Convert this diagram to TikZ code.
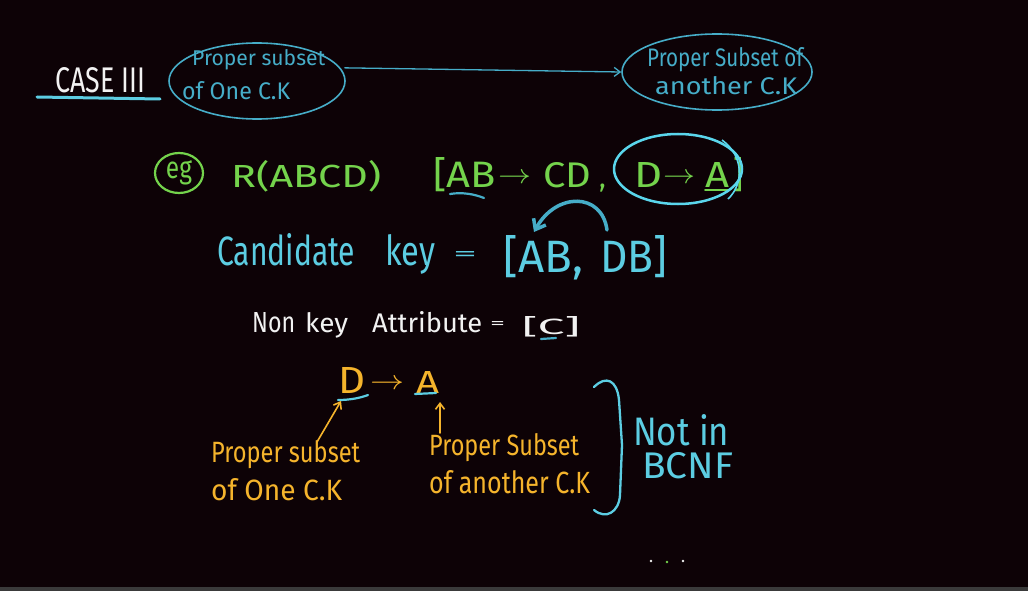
\documentclass[tikz,border=0pt]{standalone}
\usepackage{fontspec}
\setmainfont{Fira Sans}
\usepackage{graphicx}
\usetikzlibrary{shapes.geometric,arrows.meta}
\definecolor{bg}{HTML}{0D0206}
\definecolor{strip}{HTML}{3A3A3A}
\definecolor{cy}{HTML}{5CCDE2}
\definecolor{cyb}{HTML}{5AD6EC}
\definecolor{tl}{HTML}{46ADC8}
\definecolor{grn}{HTML}{74D34C}
\definecolor{ylw}{HTML}{F5B42C}
\definecolor{wht}{HTML}{F2F2F2}
\newcommand{\tx}[3]{\resizebox{#1pt}{#2pt}{#3}}
\begin{document}
\begin{tikzpicture}[x=1pt,y=-1pt,
  txt/.style={inner sep=0pt, anchor=base west},
  mid/.style={inner sep=0pt, anchor=west},
  oval/.style={draw=tl, ellipse, line width=1.6pt, inner sep=0pt},
  uline/.style={line width=2.2pt, line cap=round},
  yarrow/.style={draw=ylw, line width=1.6pt, line cap=round, -{Straight Barb[length=6pt,width=9pt]}}]
\fill[bg] (0,0) rectangle (1028,591);
\useasboundingbox (0,0) rectangle (1028,591);
\fill[strip] (0,587) rectangle (1028,591);

% ---- header ----
\node[txt, text=wht] (case) at (55,93) {\tx{90}{25}{CASE III}};
\draw[cy, uline, line width=3pt] (37,97) -- (160,99);

\node[oval, minimum width=176pt, minimum height=76pt] (e1) at (257,81) {};
\node[txt, text=tl] (l1) at (192,66) {\tx{133}{16}{Proper subset}};
\node[txt, text=tl] (l2) at (182,100) {\tx{108}{18}{of One C.K}};

\node[oval, minimum width=190pt, minimum height=76pt] (e2) at (717,72) {};
\node[txt, text=tl] (r1) at (647,67) {\tx{156}{19}{Proper Subset of}};
\node[txt, text=tl] (r2) at (655,95) {\tx{142}{18}{another C.K}};

\draw[tl, line width=1.3pt, -{Straight Barb[length=6pt,width=9pt]}, shorten <=4pt] (e1.9) -- (e2.west);

% ---- green row ----
\node[draw=grn, ellipse, line width=2.2pt, minimum width=48pt, minimum height=40pt, inner sep=0pt, text=grn] (eg) at (179,173) {\tx{26}{18}{eg}};
\node[txt, text=grn] (g1) at (231,187) {\tx{150}{27}{R(ABCD)}};
\node[txt, text=grn] (g2) at (433,187) {\tx{63}{30}{[AB}};
\node[mid, text=grn] (g3) at (498,178) {\tx{33}{10}{$\rightarrow$}};
\node[txt, text=grn] (g4) at (543,187) {\tx{48}{25}{CD}};
\node[txt, text=grn] (g4c) at (599,187) {\fontsize{28pt}{28pt}\selectfont ,};
\node[txt, text=grn] (g5) at (634,187) {\tx{28}{25}{D}};
\node[mid, text=grn] (g6) at (663,178) {\tx{32}{10}{$\rightarrow$}};
\node[txt, text=grn] (g7) at (705,187) {\tx{24}{25}{A}};
\node[txt, text=grn] (g8) at (733,187) {\tx{10}{30}{]}};
\draw[grn, uline, line width=1.8pt] (705,190) -- (729,190);
\draw[tl, uline] (450,194) .. controls (462,192) and (474,194) .. (484,198);
\node[draw=cyb, ellipse, line width=2.5pt, minimum width=128pt, minimum height=70pt, inner sep=0pt] (e3) at (678,169) {};
\draw[cyb, line width=1.6pt] (722,140) .. controls (744,156) and (744,184) .. (728,199);

% ---- candidate key ----
\draw[tl, line width=3.5pt, line cap=round, -{Straight Barb[length=9pt,width=14pt]}] (607,230) .. controls (602,192) and (556,192) .. (534,232);
\node[txt, text=cy] (c1) at (217,265) {\tx{138}{32}{Candidate}};
\node[txt, text=cy] (c2) at (385,265) {\tx{50}{31}{key}};
\node[mid, text=cy] (c3) at (453,256) {\tx{24}{9}{=}};
\node[txt, text=cy] (c4) at (503,272) {\tx{80}{37}{[AB,}};
\node[txt, text=cy] (c5) at (600,272) {\tx{67}{37}{DB]}};

% ---- non key ----
\node[txt, text=wht] (n1) at (252,332) {\tx{43}{20}{Non}};
\node[txt, text=wht] (n2) at (305,332) {\tx{43}{20}{key}};
\node[txt, text=wht] (n3) at (372,332) {\tx{110}{21}{Attribute}};
\node[mid, text=wht] (n4) at (490,325) {\tx{15}{7}{=}};
\node[txt, text=wht] (n5) at (522,334) {\tx{58}{18}{[C]}};
\draw[tl, uline] (541,339) -- (556,338);

% ---- D -> A ----
\node[txt, text=ylw] (d1) at (338,393) {\tx{27}{26}{D}};
\node[mid, text=ylw] (d2) at (370,384) {\tx{34}{10}{$\rightarrow$}};
\node[txt, text=ylw] (d3) at (416,393) {\tx{23}{22}{A}};
\draw[cy, uline] (338,400) .. controls (350,400) and (360,398) .. (368,395);
\draw[cy, uline] (415,394) -- (436,393);

\node[txt, text=ylw] (p1) at (211,462) {\tx{149}{22}{Proper subset}};
\node[txt, text=ylw] (p2) at (211,500) {\tx{131}{22}{of One C.K}};
\node[txt, text=ylw] (q1) at (429,455) {\tx{150}{22}{Proper Subset}};
\node[txt, text=ylw] (q2) at (429,493) {\tx{161}{23}{of another C.K}};
\coordinate (a1s) at (317,442);
\coordinate (a1e) at (341,401);
\coordinate (a2s) at (440,433);
\coordinate (a2e) at (440,402);
\draw[yarrow] (a1s) -- (a1e);
\draw[yarrow] (a2s) -- (a2e);

% ---- brace and verdict ----
\draw[cy, line width=2.3pt, line cap=round] (594,387) .. controls (606,375) and (617,380) .. (619,400) -- (622,445) -- (620,495) .. controls (619,512) and (606,520) .. (594,510);
\node[inner sep=0pt, anchor=north west, align=left, text=cy] (verdict) at (633,414)
  {\tx{96}{31}{Not in}\\[6pt]\hspace*{9pt}\tx{91}{26}{BCNF}};

% ---- dots ----
\fill[wht] (651,561) circle (1.3pt);
\fill[grn] (667,562) circle (1.3pt);
\fill[wht] (683,561) circle (1.3pt);
\end{tikzpicture}
\end{document}
